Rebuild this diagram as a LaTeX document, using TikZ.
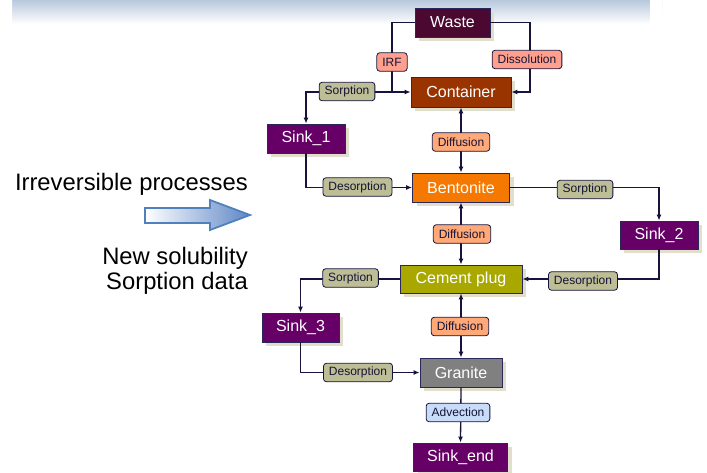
\documentclass[tikz,border=0pt]{standalone}
\usepackage{fontspec}
\setmainfont{Liberation Sans}
\usetikzlibrary{arrows.meta,shadows}
\definecolor{lineC}{RGB}{22,20,60}
\definecolor{borderC}{RGB}{40,40,90}
\definecolor{shadowC}{RGB}{226,222,204}
\definecolor{labT}{RGB}{20,20,55}
\definecolor{wasteC}{RGB}{75,8,48}
\definecolor{contC}{RGB}{153,51,0}
\definecolor{sinkC}{RGB}{102,0,102}
\definecolor{bentC}{RGB}{245,120,0}
\definecolor{cemC}{RGB}{168,168,0}
\definecolor{graC}{RGB}{128,128,128}
\definecolor{salmonC}{RGB}{255,160,142}
\definecolor{khakiC}{RGB}{189,189,150}
\definecolor{diffC}{RGB}{255,168,120}
\definecolor{advC}{RGB}{200,220,250}
\definecolor{bannerC}{RGB}{184,200,220}
\definecolor{arrowC}{RGB}{79,129,189}
\definecolor{arrowF}{RGB}{95,135,198}
\begin{document}
\begin{tikzpicture}[x=1pt,y=-1pt,
  box/.style={draw=borderC, line width=0.8pt, text=white, font=\fontsize{16}{18}\selectfont,
    minimum height=29pt, inner sep=0pt,
    drop shadow={shadow xshift=4pt,shadow yshift=-4pt,fill=shadowC,opacity=1}},
  lab/.style={draw=lineC, line width=0.8pt, rounded corners=3pt, text=labT,
    font=\fontsize{12}{14}\selectfont, minimum height=18.5pt, inner xsep=5.5pt, inner ysep=0pt},
  conn/.style={draw=lineC, line width=1.3pt},
  tip/.style={-{Latex[length=6pt,width=5pt]}},
  dtip/.style={{Latex[length=6pt,width=5pt]}-{Latex[length=6pt,width=5pt]}},
  side/.style={font=\fontsize{23.8}{26}\selectfont, anchor=base east, inner sep=0pt}
]
\useasboundingbox (0,0) rectangle (707,472);
% banner
\shade[top color=bannerC, bottom color=white] (0,0) rectangle (662,24);
\shade[left color=white, right color=white, middle color=white, opacity=0.0] (0,0) rectangle (1,1);
\shade[left color=white, right color=bannerC!0] (0,0) rectangle (12,24);
\shade[left color=bannerC!0, right color=white] (650,0) rectangle (662,24);

% main nodes
\node[box, fill=wasteC, minimum width=75pt] (waste) at (452.5,22.5) {Waste};
\node[box, fill=contC, minimum width=100pt, minimum height=30pt] (container) at (461,92) {Container};
\node[box, fill=sinkC, minimum width=78pt] (sink1) at (306,138.5) {Sink\_1};
\node[box, fill=bentC, minimum width=97pt] (bentonite) at (461,187.5) {Bentonite};
\node[box, fill=sinkC, minimum width=78pt, minimum height=28pt] (sink2) at (659,235) {Sink\_2};
\node[box, fill=cemC, minimum width=122pt, minimum height=28pt] (cement) at (461,279) {Cement plug};
\node[box, fill=sinkC, minimum width=77pt] (sink3) at (300.5,327.5) {Sink\_3};
\node[box, fill=graC, minimum width=82pt] (granite) at (461,372.5) {Granite};
\node[box, fill=sinkC, minimum width=94pt, minimum height=28pt] (sinkend) at (460.5,457) {Sink\_end};

% connectors
\coordinate (j1) at (392,92);
\coordinate (d1) at (530,22.5);
\draw[conn] (waste.west) -| (j1);
\draw[conn,tip] (j1) -- (container.west);
\draw[conn,tip] (j1) -| (sink1.north);
\draw[conn,tip] (waste.east) -- (d1) |- (container.east);
\draw[conn,dtip] (container.south) -- (bentonite.north);
\draw[conn,tip] (sink1.south) |- (bentonite.west);
\draw[conn,tip] (bentonite.east) -| (sink2.north);
\draw[conn,dtip] (bentonite.south) -- (cement.north);
\draw[conn,tip] (sink2.south) |- (cement.east);
\draw[conn,tip] (cement.west) -| (sink3.north);
\draw[conn,dtip] (cement.south) -- (granite.north);
\draw[conn,tip] (sink3.south) |- (granite.west);
\draw[conn,tip] (granite.south) -- (sinkend.north);

% labels
\node[lab, fill=salmonC] (lirf) at (392,62) {IRF};
\node[lab, fill=salmonC] (ldiss) at (527,59.5) {Dissolution};
\node[lab, fill=khakiC] (lsorp1) at (347,91.5) {Sorption};
\node[lab, fill=diffC] (ldiff1) at (461,142) {Diffusion};
\node[lab, fill=khakiC] (ldes1) at (357.5,187) {Desorption};
\node[lab, fill=khakiC] (lsorp2) at (585,189.5) {Sorption};
\node[lab, fill=diffC] (ldiff2) at (462,234) {Diffusion};
\node[lab, fill=khakiC] (ldes2) at (583,281) {Desorption};
\node[lab, fill=khakiC] (lsorp3) at (350.5,278) {Sorption};
\node[lab, fill=diffC] (ldiff3) at (460,326.5) {Diffusion};
\node[lab, fill=khakiC] (ldes3) at (358,372.5) {Desorption};
\node[lab, fill=advC] (ladv) at (458,412.5) {Advection};

% left side
\node[side] (t1) at (248,190) {Irreversible processes};
\node[side] (t2) at (248,264) {New solubility};
\node[side] (t3) at (248,289) {Sorption data};
\path[draw=arrowC, line width=1.8pt, left color=white, right color=arrowF]
  (145,208) -- (210,208) -- (210,200) -- (250,215) -- (210,230) -- (210,223) -- (145,223) -- cycle;
\end{tikzpicture}
\end{document}
